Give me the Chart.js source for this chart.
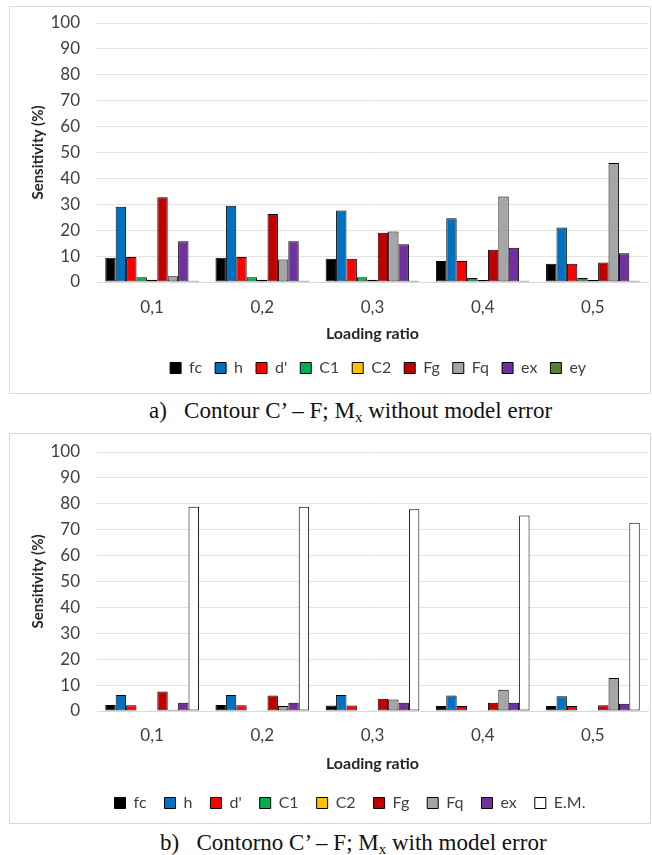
<html lang="en">

<head>
    <meta charset="UTF-8">
    <title>Sensitivity vs loading ratio</title>
    <script src="https://cdn.jsdelivr.net/npm/chart.js"></script>
    <style>
        body { margin: 0; background: #fff; width: 652px; height: 855px; position: relative; overflow: hidden; }
        .box { position: absolute; left: 9px; width: 640px; border: 1px solid #d9d9d9; }
        .caption { position: absolute; font-family: "Liberation Serif", serif; font-size: 23px; line-height: 25px; color: #111; white-space: pre; }
        .caption sub { font-size: 15px; vertical-align: -4px; line-height: 0; }
    </style>
</head>

<body>
    <div class="box" style="top:6px;height:386px;"><canvas id="chartA"></canvas></div>
    <div class="caption" style="left:149px;top:398px;">a)   Contour C’ – F; M<sub>x</sub> without model error</div>

    <div class="box" style="top:433px;height:389px;"><canvas id="chartB"></canvas></div>
    <div class="caption" style="left:160px;top:830px;">b)   Contorno C’ – F; M<sub>x</sub> with model error</div>

    <script>
        // loading ratio categories
        const categories = ['0,1', '0,2', '0,3', '0,4', '0,5'];

        // a) without model error
        const fcA = [9.4, 9.4, 9.0, 8.1, 7.0];
        const hA = [29.1, 29.4, 27.6, 24.6, 21.0];
        const dA = [9.7, 9.7, 9.0, 8.1, 7.0];
        const c1A = [1.8, 1.8, 1.8, 1.5, 1.5];
        const c2A = [0.9, 0.9, 0.9, 0.8, 0.8];
        const fgA = [32.7, 26.3, 19.0, 12.5, 7.5];
        const fqA = [2.2, 8.7, 19.5, 33.0, 45.9];
        const exA = [15.7, 15.7, 14.6, 13.2, 11.1];
        const eyA = [0.5, 0.5, 0.5, 0.5, 0.5];

        // b) with model error
        const fcB = [2.3, 2.3, 2.1, 1.9, 1.9];
        const hB = [6.2, 6.2, 6.2, 6.0, 5.7];
        const dB = [2.2, 2.2, 2.1, 1.9, 1.9];
        const c1B = [0.2, 0.2, 0.2, 0.2, 0.2];
        const c2B = [0.1, 0.1, 0.1, 0.1, 0.1];
        const fgB = [7.5, 6.0, 4.7, 3.2, 2.2];
        const fqB = [0.5, 1.9, 4.4, 8.2, 12.7];
        const exB = [3.2, 3.2, 3.2, 3.2, 2.8];
        const emB = [78.9, 78.9, 77.9, 75.5, 72.7];

        const yTicks = [0, 10, 20, 30, 40, 50, 60, 70, 80, 90, 100];

        const colors = {
            fc: '#000000', h: '#0070c0', d: '#ff0000', c1: '#00b050', c2: '#ffc000',
            fg: '#c00000', fq: '#a6a6a6', ex: '#7030a0', ey: '#548235', em: '#ffffff'
        };

        function ds(label, data, color) {
            return {
                label: label,
                data: data,
                backgroundColor: color,
                borderColor: '#000000',
                borderWidth: 1,
                borderSkipped: false,
                categoryPercentage: 0.85,
                barPercentage: 1.0
            };
        }

        // moves the legend row so it sits under the plot like in the original
        const legendShift = {
            id: 'legendShift',
            afterLayout(chart, args, opts) {
                const lg = chart.legend;
                const d = opts.center - (lg.left + lg.right) / 2;
                lg.left += d;
                lg.right += d;
            }
        };

        function makeChart(id, datasets, opts) {
            const ctx = document.getElementById(id).getContext('2d');
            return new Chart(ctx, {
                type: 'bar',
                data: { labels: categories, datasets: datasets },
                plugins: [legendShift],
                options: {
                    responsive: true,
                    maintainAspectRatio: false,
                    animation: false,
                    events: [],
                    layout: { padding: { top: opts.top, right: 2, left: 0, bottom: opts.bottom } },
                    plugins: {
                        tooltip: { enabled: false },
                        legendShift: { center: opts.legendCenter },
                        legend: {
                            position: 'bottom',
                            labels: {
                                boxWidth: 11,
                                boxHeight: 11,
                                padding: opts.legendPad,
                                color: '#404040',
                                font: { family: 'Lato', size: 16 }
                            }
                        }
                    },
                    scales: {
                        x: {
                            grid: { display: false, drawTicks: false },
                            border: { display: true, color: '#d9d9d9' },
                            ticks: { color: '#404040', padding: opts.tickPad, font: { family: 'Lato', size: 17 } },
                            title: {
                                display: true, text: 'Loading ratio', color: '#262626',
                                font: { family: 'Lato', size: 16, weight: 'bold' },
                                padding: { top: 0, bottom: 4 }
                            },
                            afterFit: function (scale) { scale.height = opts.xHeight; }
                        },
                        y: {
                            min: 0,
                            max: 100,
                            afterBuildTicks: function (scale) { scale.ticks = yTicks.map(v => ({ value: v })); },
                            grid: { color: '#e3e3e3', drawTicks: false },
                            border: { display: false },
                            ticks: { color: '#404040', padding: 17, font: { family: 'Lato', size: 17 } },
                            title: {
                                display: true, text: 'Sensitivity (%)', color: '#262626',
                                font: { family: 'Lato', size: 15, weight: 'bold' },
                                padding: { top: 19, bottom: 0 }
                            },
                            afterFit: function (scale) {
                                scale.width = 87;
                                scale.paddingTop = 0;
                                scale.paddingBottom = 0;
                            }
                        }
                    }
                }
            });
        }

        makeChart('chartA', [
            ds('fc', fcA, colors.fc),
            ds('h', hA, colors.h),
            ds("d'", dA, colors.d),
            ds('C1', c1A, colors.c1),
            ds('C2', c2A, colors.c2),
            ds('Fg', fgA, colors.fg),
            ds('Fq', fqA, colors.fq),
            ds('ex', exA, colors.ex),
            ds('ey', eyA, colors.ey)
        ], { top: 16, bottom: 7, legendPad: 13, tickPad: 15, xHeight: 65, legendCenter: 368 });

        makeChart('chartB', [
            ds('fc', fcB, colors.fc),
            ds('h', hB, colors.h),
            ds("d'", dB, colors.d),
            ds('C1', c1B, colors.c1),
            ds('C2', c2B, colors.c2),
            ds('Fg', fgB, colors.fg),
            ds('Fq', fqB, colors.fq),
            ds('ex', exB, colors.ex),
            ds('E.M.', emB, colors.em)
        ], { top: 18, bottom: 2, legendPad: 18, tickPad: 14, xHeight: 66, legendCenter: 340 });
    </script>
</body>

</html>
